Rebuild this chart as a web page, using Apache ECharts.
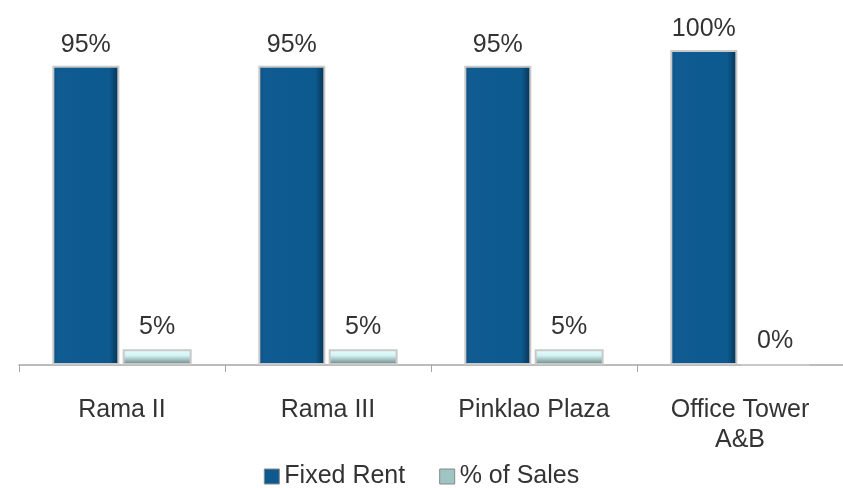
<!DOCTYPE html>
<html>
<head>
<meta charset="utf-8">
<script src="https://cdn.jsdelivr.net/npm/echarts@6/dist/echarts.min.js"></script>
<style>
  html, body { margin: 0; padding: 0; background: #fff; }
  #chart { width: 843px; height: 488px; }
</style>
</head>
<body>
<div id="chart"></div>
<script>
// data
var categories = ["Rama II", "Rama III", "Pinklao Plaza", "Office Tower\nA&B"];
var fixedRent = [95, 95, 95, 100];
var pctOfSales = [5, 5, 5, 0];

var font = "'Liberation Sans', Arial, sans-serif";

var darkFill = new echarts.graphic.LinearGradient(0, 0, 1, 0, [
    { offset: 0, color: "#0a4f80" },
    { offset: 0.08, color: "#0f5b92" },
    { offset: 0.85, color: "#0d5a8f" },
    { offset: 1, color: "#06304f" }
]);
var lightFill = new echarts.graphic.LinearGradient(0, 0, 0, 1, [
    { offset: 0, color: "#e8ffff" },
    { offset: 0.4, color: "#d4f2f2" },
    { offset: 1, color: "#5f7f7c" }
]);

var myChart = echarts.init(document.getElementById("chart"));
var option = {
    animation: false,
    grid: { left: 19, width: 833, top: 50, bottom: 123 },
    legend: {
        top: 459,
        left: "center",
        itemWidth: 15,
        itemHeight: 15,
        itemGap: 34,
        textStyle: { fontFamily: font, fontSize: 25, color: "#333" },
        data: [
            { name: "Fixed Rent", icon: "rect", itemStyle: { color: "#0d5a8f", borderColor: "#888", borderWidth: 1 } },
            { name: "% of Sales", icon: "rect", itemStyle: { color: "#9fc4c4", borderColor: "#888", borderWidth: 1 } }
        ]
    },
    xAxis: {
        type: "category",
        data: categories,
        axisLine: { lineStyle: { color: "#a6a6a6", width: 1.5 } },
        axisTick: { show: true, length: 7, lineStyle: { color: "#a6a6a6" } },
        axisLabel: {
            fontFamily: font, fontSize: 25, color: "#333",
            margin: 30, lineHeight: 30, interval: 0
        }
    },
    yAxis: {
        type: "value",
        min: 0,
        max: 100,
        show: false,
        splitLine: { show: false }
    },
    series: [
        {
            name: "Fixed Rent",
            type: "bar",
            data: fixedRent,
            barWidth: 67,
            barGap: "5%",
            itemStyle: {
                color: darkFill,
                borderColor: "#c9c9c9",
                borderWidth: 2
            },
            label: {
                show: true,
                position: "top",
                distance: 8,
                formatter: "{c}%",
                fontFamily: font,
                fontSize: 25,
                color: "#333"
            }
        },
        {
            name: "% of Sales",
            type: "bar",
            data: pctOfSales,
            barWidth: 69,
            itemStyle: {
                color: lightFill,
                borderColor: "#c9c9c9",
                borderWidth: 2
            },
            label: {
                show: true,
                position: "top",
                distance: 10,
                formatter: "{c}%",
                fontFamily: font,
                fontSize: 25,
                color: "#333"
            }
        }
    ]
};
myChart.setOption(option);
</script>
</body>
</html>
